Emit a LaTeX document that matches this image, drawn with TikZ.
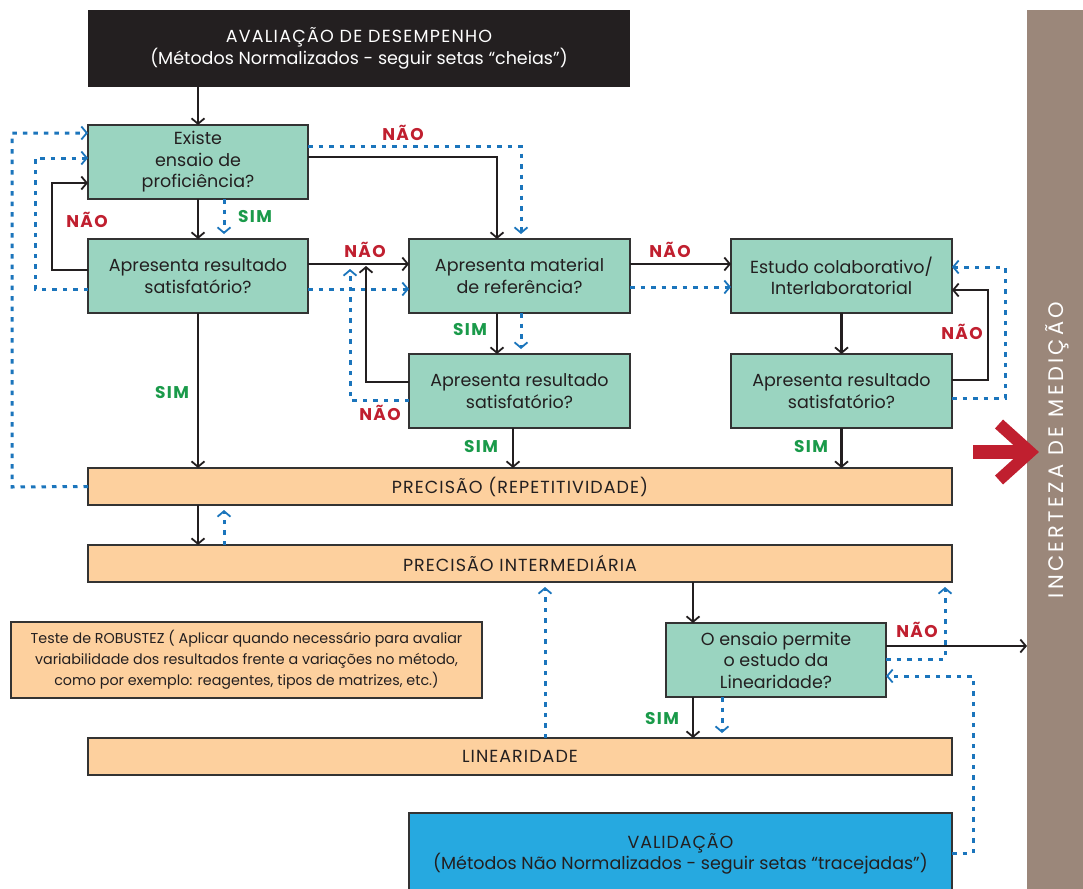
\documentclass[tikz,border=0pt]{standalone}
\usepackage{fontspec}
\setmainfont{Poppins}
\usetikzlibrary{arrows.meta,calc}
\definecolor{gfill}{HTML}{9AD4C0}
\definecolor{ofill}{HTML}{FDD09E}
\definecolor{vblue}{HTML}{26A9E0}
\definecolor{hdark}{HTML}{231F20}
\definecolor{brownbar}{HTML}{9B877A}
\definecolor{nred}{HTML}{C01F2F}
\definecolor{sgreen}{HTML}{1A9A4A}
\definecolor{dblue}{HTML}{1B75BC}
\definecolor{edge}{HTML}{333333}
\begin{document}
\begin{tikzpicture}[x=1pt,y=-1pt,
  every node/.style={inner sep=0pt, outer sep=0pt},
  gbox/.style={draw=edge, line width=1.8pt, fill=gfill, align=center,
    minimum width=220pt, minimum height=74pt, text=hdark,
    font=\fontsize{17.5}{21.5}\selectfont},
  obox/.style={draw=edge, line width=1.8pt, fill=ofill, align=center,
    minimum width=864pt, minimum height=37pt, text=hdark,
    font=\fontsize{17.5}{21.5}\selectfont\addfontfeature{LetterSpace=6}},
  nao/.style={text=nred, font=\bfseries\fontsize{17}{18}\selectfont\addfontfeature{LetterSpace=8}},
  sim/.style={text=sgreen, font=\bfseries\fontsize{17}{18}\selectfont\addfontfeature{LetterSpace=8}},
  tip/.style={-{Straight Barb[length=5.5pt,width=13pt,line width=1.8pt]}},
  sol/.style={draw=hdark, line width=2.8pt, tip},
  dot/.style={draw=dblue, line width=3pt, dash pattern=on 4.5pt off 6pt, tip, shorten >=5pt}
]
\useasboundingbox (0,0) rectangle (1083,888);
% right bar
\node[fill=brownbar, minimum width=56pt, minimum height=880pt, anchor=north west] (INC) at (1027,10) {};
\node[rotate=90, text=white, font=\fontsize{21}{24}\selectfont\addfontfeature{LetterSpace=16}] (INCT) at (1057,450) {INCERTEZA DE MEDIÇÃO};
% header
\node[fill=hdark, minimum width=542pt, minimum height=77pt, text=white, align=center,
  font=\fontsize{17.5}{21.5}\selectfont] (H) at (359,48.5)
  {{\addfontfeature{LetterSpace=7}AVALIAÇÃO DE DESEMPENHO}\\(Métodos Normalizados - seguir setas “cheias”)};
% decision boxes
\node[gbox] (A) at (198,162) {Existe\\ensaio de\\proficiência?};
\node[gbox] (B) at (198,276) {Apresenta resultado\\satisfatório?};
\node[gbox, minimum width=221pt] (C) at (519.5,276) {Apresenta material\\de referência?};
\node[gbox, minimum width=221pt] (D) at (841.5,276) {Estudo colaborativo/\\Interlaboratorial};
\node[gbox, minimum width=221pt] (E) at (519.5,391) {Apresenta resultado\\satisfatório?};
\node[gbox, minimum width=221pt] (F) at (841.5,391) {Apresenta resultado\\satisfatório?};
\node[gbox] (G) at (776,660) {O ensaio permite\\o estudo da\\Linearidade?};
% bars
\node[obox] (P1) at (520,486.5) {PRECISÃO (REPETITIVIDADE)};
\node[obox] (P2) at (520,563.5) {PRECISÃO INTERMEDIÁRIA};
\node[obox] (L) at (520,756.5) {LINEARIDADE};
\node[draw=edge, line width=1.8pt, fill=ofill, minimum width=471pt, minimum height=76pt,
  align=center, text=hdark, font=\fontsize{14.3}{21}\selectfont] (R) at (246.5,660)
  {Teste de ROBUSTEZ ( Aplicar quando necessário para avaliar\\variabilidade dos resultados frente a variações no método,\\como por exemplo: reagentes, tipos de matrizes, etc.)};
\node[draw=edge, line width=1.8pt, fill=vblue, minimum width=543pt, minimum height=82pt,
  align=center, text=hdark, font=\fontsize{17.5}{21.5}\selectfont] (V) at (680.5,854)
  {{\addfontfeature{LetterSpace=5}VALIDAÇÃO}\\(Métodos Não Normalizados - seguir setas “tracejadas”)};
% red arrow
\draw[nred, line width=14pt] (973,452) -- (1026,452);
\draw[nred, line width=12pt, line join=miter] (999,424) -- (1030,452) -- (999,480);
% solid connectors
\draw[sol] (A.north |- H.south) -- (A.north);
\draw[sol] (A.south) -- (B.north);
\draw[sol] (B.west |- 0,270) -- (52,270) -- (52,183) -- (A.west |- 0,183);
\draw[sol] (A.east |- 0,157) -| (C.north -| 497,0);
\draw[sol] (B.east |- 0,264) -- (C.west |- 0,264);
\draw[sol] (C.south -| 497,0) -- (E.north -| 497,0);
\draw[sol, shorten >=1pt] (E.west |- 0,382) -| (366,265);
\draw[sol] (C.east |- 0,264) -- (D.west |- 0,264);
\draw[sol] (D.south) -- (F.north);
\draw[sol] (F.east |- 0,380) -- (988,380) -- (988,290) -- (D.east |- 0,290);
\draw[sol] (B.south) -- (P1.north -| B.south);
\draw[sol] (E.south -| 513,0) -- (P1.north -| 513,0);
\draw[sol] (F.south) -- (P1.north -| F.south);
\draw[sol] (P1.south -| 198,0) -- (P2.north -| 198,0);
\draw[sol] (P2.south -| 693,0) -- (G.north -| 693,0);
\draw[sol] (G.east |- 0,646) -- (INC.west |- 0,646);
\draw[sol] (G.south -| 693,0) -- (L.north -| 693,0);
% dotted connectors
\draw[dot, shorten >=0pt] (P1.west) -- (12,487) -- (12,133) -- (A.west |- 0,133);
\draw[dot, shorten >=0pt] (B.west |- 0,289) -- (35,289) -- (35,158) -- (A.west |- 0,158);
\draw[dot] (A.east |- 0,146) -| (C.north -| 521,0);
\draw[dot] (A.south -| 224,0) -- (B.north -| 224,0);
\draw[dot, shorten >=0pt] (B.east |- 0,289) -- (C.west |- 0,289);
\draw[dot] (E.west |- 0,400) -| (350,264);
\draw[dot] (C.south -| 521,0) -- (E.north -| 521,0);
\draw[dot, shorten >=0pt] (C.east |- 0,287) -- (D.west |- 0,287);
\draw[dot, shorten >=0pt] (F.east |- 0,398) -- (1005,398) -- (1005,267) -- (D.east |- 0,267);
\draw[dot] (P2.north -| 224,0) -- (P1.south -| 224,0);
\draw[dot] (L.north -| 545,0) -- (P2.south -| 545,0);
\draw[dot] (G.east |- 0,659) -| (P2.south -| 945,0);
\draw[dot, shorten >=0pt] (V.east |- 0,853) -- (973,853) -- (973,676) -- (G.east |- 0,676);
\draw[dot] (G.south -| 722,0) -- (L.north -| 722,0);
% labels
\node[nao] (n1) at (87,220) {NÃO};
\node[sim] (s1) at (255,217) {SIM};
\node[nao] (n2) at (403,133) {NÃO};
\node[nao] (n3) at (365,250) {NÃO};
\node[nao] (n4) at (670,250) {NÃO};
\node[sim] (s2) at (470,330) {SIM};
\node[nao] (n5) at (962,332) {NÃO};
\node[sim] (s3) at (172,393) {SIM};
\node[nao] (n6) at (380,413) {NÃO};
\node[sim] (s4) at (481,447) {SIM};
\node[sim] (s5) at (811,447) {SIM};
\node[nao] (n7) at (917,630) {NÃO};
\node[sim] (s6) at (662,718) {SIM};
\end{tikzpicture}
\end{document}
